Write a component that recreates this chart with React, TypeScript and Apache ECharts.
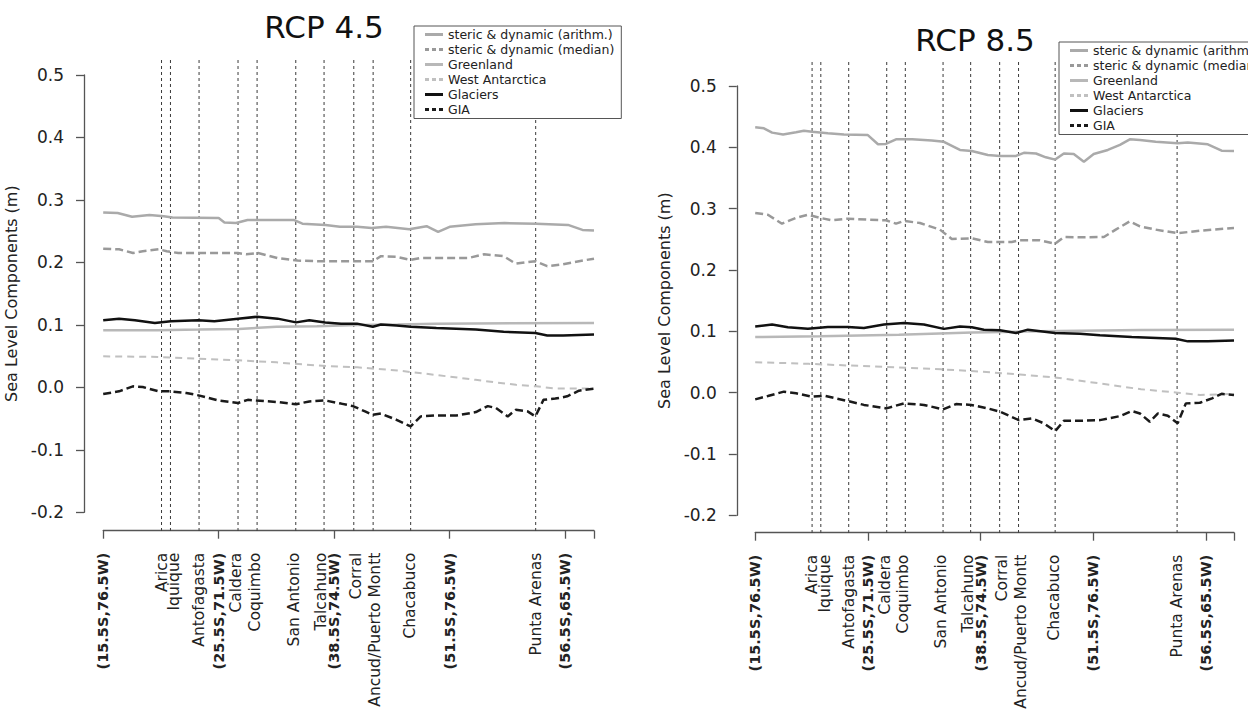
import React, { useEffect, useRef } from 'react';
import * as echarts from 'echarts';

const FONT = '"DejaVu Sans", Verdana, sans-serif';

const seriesNames = [
  'steric & dynamic (arithm.)',
  'steric & dynamic (median)',
  'Greenland',
  'West Antarctica',
  'Glaciers',
  'GIA',
];

const coordTickValues = [0, 40, 80, 120, 160];
const coordTickLabels = ['(15.5S,76.5W)', '(25.5S,71.5W)', '(38.5S,74.5W)', '(51.5S,76.5W)', '(56.5S,65.5W)'];

const stationNames = [
  'Arica', 'Iquique', 'Antofagasta', 'Caldera', 'Coquimbo', 'San Antonio',
  'Talcahuno', 'Corral', 'Ancud/Puerto Montt', 'Chacabuco', 'Punta Arenas',
];
const stationPositions = [20.2, 23.3, 33.2, 46.7, 53.3, 66.7, 76.5, 86.8, 93.5, 106.5, 149.8];

const yTickValues = [-0.2, -0.1, 0, 0.1, 0.2, 0.3, 0.4, 0.5];

// ---------- RCP 4.5 ----------
const rcp45StericArithm = [[0,0.280],[5,0.279],[10,0.273],[16,0.276],[21,0.274],[24,0.272],[40,0.271],[42,0.264],[46,0.263],[50,0.268],[66,0.268],[69,0.262],[77,0.260],[82,0.257],[88,0.257],[93,0.255],[98,0.257],[106,0.253],[112,0.258],[116,0.249],[120,0.257],[129,0.261],[139,0.263],[150,0.262],[161,0.260],[166,0.252],[170,0.251]];
const rcp45StericMedian = [[0,0.222],[5.5,0.221],[10.3,0.215],[13.7,0.218],[19.2,0.221],[22,0.218],[26,0.215],[46.7,0.215],[49.5,0.213],[53.6,0.215],[60.4,0.207],[67.3,0.203],[74.2,0.202],[93.4,0.202],[96.2,0.21],[101.6,0.209],[106.5,0.204],[110,0.207],[126.4,0.207],[131.9,0.213],[138.7,0.21],[142.9,0.198],[149.7,0.202],[153.8,0.194],[159.3,0.197],[164.8,0.202],[170,0.206]];
const rcp45Greenland = [[0,0.0915],[19,0.0915],[33,0.0925],[47,0.0936],[60,0.097],[74,0.098],[88,0.1],[102,0.1005],[115,0.102],[170,0.103]];
const rcp45WestAntarctica = [[0,0.0497],[19,0.0487],[33,0.046],[47,0.0433],[60,0.04],[74,0.035],[88,0.032],[102,0.027],[115,0.02],[129,0.012],[143,0.004],[150,0.0016],[157,-0.002],[170,-0.002]];
const rcp45Glaciers = [[0,0.1075],[5.5,0.11],[11,0.1075],[17.9,0.103],[23.4,0.106],[33,0.1075],[38.5,0.106],[46.7,0.11],[53.3,0.113],[60.4,0.11],[66.8,0.104],[71.4,0.1075],[76.9,0.104],[82.4,0.102],[87.9,0.102],[93.4,0.097],[96.2,0.1005],[101.6,0.099],[106.5,0.097],[115.4,0.095],[129.1,0.0925],[138.7,0.089],[149.7,0.087],[153.8,0.083],[159.3,0.083],[170,0.0845]];
const rcp45GIA = [[0,-0.0107],[5.5,-0.0064],[10.3,0.0016],[13.7,0.0005],[19.2,-0.0064],[23.4,-0.0064],[28.8,-0.009],[33,-0.0128],[39.8,-0.021],[46.7,-0.025],[50.1,-0.02],[60.4,-0.0235],[66.8,-0.027],[71.4,-0.0225],[76.9,-0.021],[82.4,-0.026],[86.5,-0.03],[90.7,-0.0385],[93.4,-0.044],[96.2,-0.042],[101.6,-0.052],[106.5,-0.0626],[110,-0.0465],[115.4,-0.045],[122.3,-0.045],[129.1,-0.0396],[133.2,-0.03],[136,-0.033],[140.1,-0.0465],[142.9,-0.036],[147,-0.0385],[149.7,-0.0465],[152.5,-0.02],[156.6,-0.018],[160.7,-0.0144],[164.8,-0.0053],[170,-0.002]];

// ---------- RCP 8.5 ----------
const rcp85StericArithm = [[0,0.4326],[3.1,0.431],[6,0.424],[9.9,0.421],[14.5,0.4245],[17.3,0.427],[20.2,0.4255],[25.8,0.423],[31.5,0.421],[40,0.42],[43.6,0.405],[46.4,0.4055],[50,0.413],[55.7,0.413],[62.7,0.411],[67,0.409],[72.7,0.3957],[76.9,0.394],[82.6,0.3875],[86.9,0.386],[92.6,0.386],[95.4,0.391],[99.7,0.39],[103.2,0.3837],[106.5,0.38],[109.6,0.39],[113.1,0.389],[116.7,0.3766],[120.2,0.389],[125.2,0.3957],[129.5,0.404],[133,0.413],[136.6,0.412],[142.2,0.409],[150,0.4065],[153.6,0.408],[160.7,0.405],[165.6,0.3946],[170,0.394]];
const rcp85StericMedian = [[0,0.293],[4.5,0.29],[9.5,0.2755],[14.5,0.285],[18.7,0.29],[23,0.285],[27.3,0.281],[32.9,0.2837],[40,0.282],[46.4,0.281],[50,0.2755],[52.8,0.28],[58.5,0.2766],[65.6,0.2658],[69.8,0.2505],[76.9,0.2516],[82.6,0.2457],[91.1,0.2457],[94,0.2484],[101,0.2484],[106.5,0.243],[109.6,0.2538],[115.3,0.2533],[123.8,0.2538],[128,0.2658],[133,0.2793],[136.6,0.2712],[142.2,0.2658],[150,0.26],[157.9,0.264],[170,0.2685]];
const rcp85Greenland = [[0,0.0907],[23,0.0918],[51,0.0945],[77,0.098],[94,0.0995],[108,0.1005],[137,0.102],[170,0.1027]];
const rcp85WestAntarctica = [[0,0.0497],[19,0.047],[33,0.0443],[51,0.041],[66,0.038],[80,0.0344],[94,0.0295],[106,0.025],[122,0.0153],[137,0.0055],[150,0],[158,-0.0038],[170,-0.002]];
const rcp85Glaciers = [[0,0.108],[6,0.111],[11.6,0.1066],[18.7,0.104],[25.8,0.107],[32.9,0.107],[38.6,0.1055],[45.7,0.111],[52.8,0.1137],[59.9,0.111],[67,0.104],[72.7,0.108],[76.9,0.1066],[81.2,0.1027],[86.9,0.1016],[92.6,0.0973],[96.8,0.1027],[106.5,0.0973],[115.3,0.096],[122.4,0.0934],[133.7,0.0907],[149.3,0.088],[153.6,0.0836],[160.7,0.0836],[170,0.0852]];
const rcp85GIA = [[0,-0.011],[4.5,-0.0055],[10.2,0.0016],[14.5,-0.001],[20.2,-0.0066],[24.4,-0.005],[32.9,-0.0137],[38.6,-0.02],[46.6,-0.0257],[52.8,-0.0175],[59.9,-0.02],[66.7,-0.0273],[71.3,-0.0186],[76.7,-0.02],[82.6,-0.0257],[86.9,-0.031],[93.6,-0.0448],[98.2,-0.042],[102.5,-0.05],[106.5,-0.0628],[109.6,-0.0459],[115.3,-0.0459],[122.4,-0.0448],[129.5,-0.0383],[133.7,-0.03],[136.6,-0.0339],[140.1,-0.0475],[143,-0.0339],[146.5,-0.0377],[150,-0.05],[152.9,-0.0175],[157.9,-0.0164],[162.2,-0.0093],[165.6,-0.002],[170,-0.0038]];

// styling (not data)
const lineStyles = [
  { color: '#aaaaaa', width: 2.5, type: 'solid' as any },
  { color: '#999999', width: 2.5, type: [8, 4] as any },
  { color: '#b8b8b8', width: 2.5, type: 'solid' as any },
  { color: '#c0c0c0', width: 2, type: [7, 5] as any },
  { color: '#111111', width: 2.5, type: 'solid' as any },
  { color: '#1a1a1a', width: 2.5, type: [8, 4] as any },
];
const SOLID_ICON = 'path://M0,0h18v3h-18z';
const DASH_ICON = 'path://M0,0h4v3h-4z M7,0h4v3h-4z M14,0h4v3h-4z';
const legendIcons = [SOLID_ICON, DASH_ICON, SOLID_ICON, DASH_ICON, SOLID_ICON, DASH_ICON];
// small pixel nudges of station labels, as in the original figure
const stationLabelShift = [0, 4, 0, -2, -2, -2, -3, 2, 2, -1, 0];

type Cfg = {
  title: string;
  titleX: number;
  titleY: number;
  legendLeft: number;
  legendTop: number;
  gridLeft: number;
  gridRight: number;
  gridTop: number;
  gridBottom: number;
  xOffset: number;
  yOffset: number;
  lineTopExt: number;
  series: number[][][];
};

function buildOption(cfg: Cfg): any {
  const axisColor = '#555';
  const lines = cfg.series.map((d, i) => ({
    type: 'line',
    name: seriesNames[i],
    data: d,
    symbol: 'none',
    showSymbol: false,
    smooth: false,
    z: 3 + i,
    lineStyle: { color: lineStyles[i].color, width: lineStyles[i].width, type: lineStyles[i].type },
    itemStyle: { color: lineStyles[i].color },
  }));
  const stations = {
    type: 'custom',
    name: 'stations',
    silent: true,
    clip: false,
    z: 1,
    data: stationPositions.map((p, i) => [p, 0, i]),
    encode: { x: 0, y: 1 },
    renderItem: (params: any, api: any) => {
      const px = api.coord([api.value(0), 0])[0];
      const cs = params.coordSys;
      const axisY = cs.y + cs.height + cfg.xOffset;
      const idx = api.value(2);
      return {
        type: 'group',
        children: [
          {
            type: 'line',
            shape: { x1: px, y1: cs.y - cfg.lineTopExt, x2: px, y2: axisY },
            style: { stroke: '#3a3a3a', lineWidth: 1, lineDash: [3, 3] },
          },
          {
            type: 'text',
            x: px + stationLabelShift[idx],
            y: axisY + 22,
            rotation: Math.PI / 2,
            style: {
              text: stationNames[idx],
              align: 'right',
              verticalAlign: 'middle',
              textAlign: 'right',
              textVerticalAlign: 'middle',
              fontSize: 15.5,
              fontFamily: FONT,
              fill: '#222',
            },
          },
        ],
      };
    },
  };
  return {
    animation: false,
    backgroundColor: '#ffffff',
    textStyle: { fontFamily: FONT },
    graphic: [
      {
        type: 'text',
        x: cfg.titleX,
        y: cfg.titleY,
        z: 10,
        style: {
          text: cfg.title,
          fontSize: 31,
          fontFamily: FONT,
          fill: '#111',
          align: 'center',
          verticalAlign: 'middle',
          textAlign: 'center',
          textVerticalAlign: 'middle',
        },
      },
    ],
    legend: {
      data: seriesNames.map((n, i) => ({ name: n, icon: legendIcons[i] })),
      orient: 'vertical',
      left: cfg.legendLeft,
      top: cfg.legendTop,
      backgroundColor: '#ffffff',
      borderColor: '#555',
      borderWidth: 1,
      borderRadius: 0,
      padding: [2, 7, 2.5, 11],
      itemWidth: 18,
      itemHeight: 12,
      itemGap: 2,
      symbolKeepAspect: true,
      selectedMode: false,
      z: 20,
      textStyle: { fontFamily: FONT, fontSize: 12.5, color: '#222', lineHeight: 12 },
    },
    grid: {
      left: cfg.gridLeft,
      right: cfg.gridRight,
      top: cfg.gridTop,
      bottom: cfg.gridBottom,
      containLabel: false,
      outerBoundsMode: 'none',
    },
    xAxis: {
      type: 'value',
      min: 0,
      max: 170,
      interval: 40,
      offset: cfg.xOffset,
      axisLine: { show: true, onZero: false, lineStyle: { color: axisColor, width: 1.3 } },
      axisTick: { show: true, length: 8, inside: false, lineStyle: { color: axisColor, width: 1.3 } },
      splitLine: { show: false },
      axisLabel: {
        rotate: 90,
        margin: 22,
        fontSize: 14.5,
        fontWeight: 'bold',
        color: '#222',
        fontFamily: FONT,
        formatter: (v: number) => {
          const i = coordTickValues.indexOf(Math.round(v));
          return i >= 0 ? coordTickLabels[i] : '';
        },
      },
    },
    yAxis: {
      type: 'value',
      min: yTickValues[0],
      max: yTickValues[yTickValues.length - 1],
      interval: 0.1,
      offset: cfg.yOffset,
      name: 'Sea Level Components (m)',
      nameLocation: 'middle',
      nameRotate: 90,
      nameGap: 57,
      nameTextStyle: { fontSize: 16, color: '#222', fontFamily: FONT },
      axisLine: { show: true, onZero: false, lineStyle: { color: axisColor, width: 1.3 } },
      axisTick: { show: true, length: 8, inside: false, lineStyle: { color: axisColor, width: 1.3 } },
      splitLine: { show: false },
      axisLabel: {
        margin: 20,
        fontSize: 17,
        color: '#222',
        fontFamily: FONT,
        formatter: (v: number) => (Math.abs(v) < 1e-9 ? '0.0' : v.toFixed(1)),
      },
    },
    series: [stations, ...lines],
  };
}

const leftCfg: Cfg = {
  title: 'RCP 4.5',
  titleX: 324,
  titleY: 27,
  legendLeft: 414,
  legendTop: 26,
  gridLeft: 103.2,
  gridRight: 30,
  gridTop: 75,
  gridBottom: 199.7,
  xOffset: 18.4,
  yOffset: 19.2,
  lineTopExt: 15,
  series: [rcp45StericArithm, rcp45StericMedian, rcp45Greenland, rcp45WestAntarctica, rcp45Glaciers, rcp45GIA],
};

const rightCfg: Cfg = {
  title: 'RCP 8.5',
  titleX: 351,
  titleY: 40,
  legendLeft: 435,
  legendTop: 42,
  gridLeft: 131.2,
  gridRight: 14,
  gridTop: 86,
  gridBottom: 196.7,
  xOffset: 17.4,
  yOffset: 18.4,
  lineTopExt: 24,
  series: [rcp85StericArithm, rcp85StericMedian, rcp85Greenland, rcp85WestAntarctica, rcp85Glaciers, rcp85GIA],
};

function Panel({ cfg }: { cfg: Cfg }) {
  const ref = useRef<HTMLDivElement>(null);
  useEffect(() => {
    if (!ref.current) return;
    const chart = echarts.init(ref.current, undefined, { renderer: 'svg' });
    chart.setOption(buildOption(cfg));
    return () => chart.dispose();
  }, [cfg]);
  return <div ref={ref} style={{ width: 624, height: 712 }} />;
}

export default function App() {
  useEffect(() => {
    document.body.style.margin = '0';
  }, []);
  return (
    <div style={{ position: 'absolute', left: 0, top: 0, width: 1248, height: 712, display: 'flex', background: '#fff', overflow: 'hidden' }}>
      <Panel cfg={leftCfg} />
      <Panel cfg={rightCfg} />
    </div>
  );
}
